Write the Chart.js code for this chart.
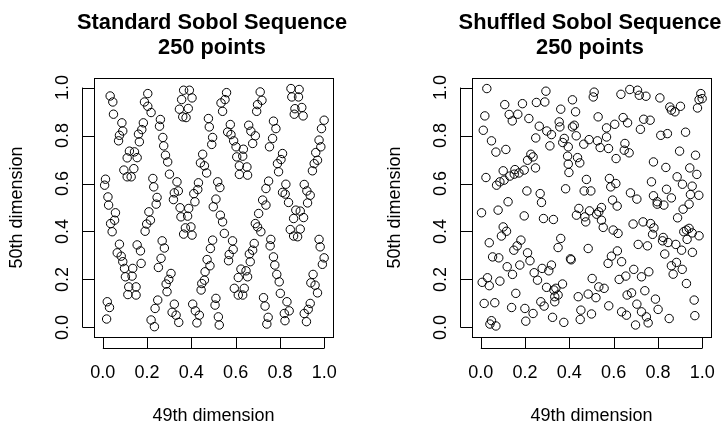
<!DOCTYPE html>
<html>
<head>
<meta charset="utf-8">
<script src="https://cdn.jsdelivr.net/npm/chart.js@4"></script>
<style>
  body { margin: 0; background: #fff; }
  .wrap { display: flex; width: 722px; height: 426px; }
  canvas { display: block; }
</style>
</head>
<body>
<div class="wrap">
  <canvas id="stdChart" width="361" height="426"></canvas>
  <canvas id="shufChart" width="361" height="426"></canvas>
</div>
<script>
// tick values and their labels (same for both axes, both panels)
const tickVals = [0, 0.2, 0.4, 0.6, 0.8, 1.0];
const tickLabels = ['0.0', '0.2', '0.4', '0.6', '0.8', '1.0'];

// left panel: standard sobol, 49th dim (x) vs 50th dim (y)
const stdX = [0.008,0.012,0.017,0.020,0.030,0.023,0.026,0.035,0.042,0.053,
0.057,0.033,0.045,0.048,0.065,0.075,0.083,0.071,0.075,0.086,
0.090,0.090,0.098,0.102,0.095,0.110,0.110,0.120,0.128,0.140,
0.143,0.155,0.113,0.117,0.132,0.135,0.150,0.150,0.155,0.170,
0.173,0.161,0.165,0.176,0.183,0.188,0.203,0.203,0.218,0.191,
0.198,0.208,0.215,0.218,0.233,0.236,0.248,0.226,0.230,0.241,
0.245,0.251,0.263,0.268,0.278,0.256,0.260,0.271,0.275,0.283,
0.293,0.301,0.290,0.286,0.298,0.308,0.313,0.323,0.331,0.343,
0.319,0.323,0.335,0.341,0.346,0.361,0.376,0.356,0.365,0.391,
0.386,0.403,0.349,0.353,0.365,0.373,0.383,0.388,0.398,0.403,
0.406,0.418,0.425,0.436,0.411,0.416,0.429,0.432,0.441,0.451,
0.459,0.469,0.444,0.447,0.459,0.462,0.471,0.484,0.486,0.496,
0.477,0.481,0.492,0.496,0.499,0.511,0.511,0.507,0.519,0.529,
0.522,0.526,0.534,0.541,0.552,0.559,0.531,0.541,0.549,0.564,
0.576,0.579,0.591,0.602,0.571,0.568,0.586,0.589,0.594,0.612,
0.612,0.624,0.632,0.639,0.647,0.654,0.605,0.617,0.617,0.632,
0.635,0.651,0.654,0.659,0.669,0.677,0.689,0.662,0.666,0.677,
0.684,0.689,0.699,0.704,0.714,0.695,0.699,0.711,0.719,0.722,
0.737,0.737,0.749,0.726,0.733,0.741,0.747,0.753,0.767,0.771,
0.782,0.759,0.756,0.771,0.777,0.786,0.797,0.802,0.789,0.794,
0.805,0.812,0.812,0.827,0.824,0.839,0.823,0.820,0.832,0.842,
0.847,0.862,0.862,0.872,0.880,0.892,0.892,0.907,0.850,0.854,
0.868,0.865,0.884,0.887,0.899,0.905,0.910,0.922,0.925,0.937,
0.910,0.920,0.928,0.937,0.940,0.950,0.959,0.970,0.947,0.955,
0.962,0.970,0.977,0.982,0.992,1.000,0.977,0.985,0.988,1.000];
const stdY = [0.593,0.618,0.035,0.107,0.083,0.544,0.510,0.433,0.399,0.447,
0.478,0.965,0.940,0.889,0.311,0.347,0.297,0.778,0.801,0.853,
0.819,0.274,0.246,0.211,0.656,0.628,0.707,0.735,0.628,0.662,
0.732,0.708,0.137,0.169,0.214,0.246,0.169,0.135,0.344,0.319,
0.267,0.806,0.774,0.825,0.853,0.940,0.975,0.922,0.896,0.401,
0.431,0.482,0.447,0.031,0.003,0.079,0.114,0.621,0.586,0.514,
0.542,0.250,0.288,0.361,0.331,0.839,0.867,0.792,0.757,0.718,
0.690,0.639,0.149,0.181,0.200,0.225,0.063,0.097,0.051,0.021,
0.533,0.561,0.607,0.569,0.910,0.878,0.875,0.950,0.989,0.989,
0.913,0.957,0.499,0.461,0.389,0.415,0.464,0.496,0.419,0.385,
0.097,0.069,0.019,0.051,0.558,0.524,0.575,0.603,0.686,0.722,
0.674,0.644,0.156,0.183,0.197,0.232,0.283,0.257,0.329,0.364,
0.871,0.836,0.763,0.792,0.503,0.535,0.121,0.093,0.607,0.583,
0.044,0.010,0.936,0.901,0.950,0.979,0.468,0.440,0.392,0.815,
0.846,0.804,0.778,0.753,0.304,0.278,0.361,0.325,0.163,0.135,
0.208,0.243,0.135,0.163,0.236,0.211,0.711,0.674,0.638,0.714,
0.743,0.669,0.635,0.843,0.818,0.767,0.799,0.306,0.274,0.322,
0.350,0.433,0.419,0.475,0.399,0.901,0.929,0.982,0.947,0.531,
0.510,0.579,0.610,0.124,0.089,0.014,0.042,0.753,0.788,0.860,
0.829,0.367,0.340,0.294,0.260,0.221,0.190,0.142,0.683,0.649,
0.700,0.725,0.563,0.597,0.556,0.521,0.028,0.058,0.107,0.069,
0.408,0.381,0.454,0.489,0.378,0.410,0.485,0.458,0.996,0.961,
0.912,0.889,0.961,0.992,0.917,0.882,0.596,0.569,0.519,0.551,
0.058,0.024,0.075,0.100,0.186,0.221,0.176,0.144,0.653,0.683,
0.729,0.697,0.367,0.336,0.263,0.290,0.781,0.753,0.829,0.864];

// right panel: shuffled sobol
const shufX = [0.027,0.294,0.512,0.508,0.633,0.673,0.708,0.716,0.746,0.809,
0.994,0.986,1.000,0.979,0.414,0.251,0.289,0.108,0.188,0.361,
0.428,0.128,0.142,0.167,0.018,0.217,0.530,0.643,0.663,0.736,
0.765,0.854,0.861,0.877,0.902,0.354,0.357,0.264,0.414,0.422,
0.568,0.605,0.721,0.011,0.298,0.319,0.431,0.813,0.843,0.925,
0.048,0.248,0.377,0.568,0.489,0.527,0.370,0.651,0.465,0.395,
0.539,0.577,0.312,0.068,0.113,0.648,0.670,0.611,0.898,0.970,
0.226,0.236,0.211,0.437,0.447,0.392,0.395,0.780,0.836,0.944,
0.976,0.247,0.196,0.154,0.172,0.151,0.131,0.101,0.105,0.086,
0.071,0.023,0.398,0.477,0.467,0.497,0.581,0.587,0.610,0.771,
0.887,0.911,0.383,0.208,0.268,0.274,0.123,0.078,0.003,0.196,
0.283,0.328,0.676,0.705,0.780,0.797,0.797,0.839,0.861,0.827,
0.955,0.947,0.985,0.941,0.914,0.595,0.616,0.443,0.432,0.470,
0.474,0.491,0.523,0.533,0.545,0.545,0.553,0.598,0.620,0.688,
0.733,0.767,0.782,0.776,0.824,0.821,0.846,0.889,0.929,0.941,
0.917,0.955,0.986,0.932,0.101,0.116,0.093,0.181,0.164,0.149,
0.038,0.361,0.349,0.485,0.711,0.753,0.881,0.907,0.956,0.831,
0.211,0.222,0.053,0.081,0.405,0.408,0.590,0.617,0.636,0.575,
0.176,0.119,0.241,0.277,0.307,0.319,0.143,0.030,0.006,0.038,
0.086,0.256,0.503,0.625,0.655,0.691,0.726,0.759,0.861,0.884,
0.869,0.910,0.929,0.369,0.297,0.330,0.339,0.334,0.349,0.334,
0.533,0.557,0.158,0.440,0.485,0.520,0.661,0.681,0.741,0.789,
0.964,0.015,0.063,0.139,0.199,0.271,0.286,0.236,0.578,0.705,
0.801,0.452,0.500,0.636,0.658,0.726,0.748,0.756,0.699,0.851,
0.967,0.324,0.375,0.449,0.203,0.048,0.041,0.068];
const shufY = [0.996,0.985,0.981,0.961,0.972,0.992,0.989,0.968,0.964,0.957,
0.975,0.950,0.954,0.915,0.949,0.938,0.940,0.929,0.933,0.910,
0.899,0.888,0.861,0.889,0.882,0.871,0.878,0.875,0.853,0.868,
0.864,0.919,0.906,0.899,0.922,0.857,0.836,0.839,0.836,0.843,
0.832,0.847,0.826,0.822,0.819,0.804,0.799,0.801,0.808,0.814,
0.778,0.790,0.788,0.794,0.783,0.778,0.771,0.767,0.764,0.753,
0.750,0.746,0.757,0.731,0.742,0.739,0.728,0.704,0.735,0.718,
0.722,0.711,0.697,0.708,0.686,0.714,0.681,0.690,0.667,0.665,
0.638,0.665,0.656,0.658,0.644,0.639,0.631,0.653,0.614,0.607,
0.593,0.625,0.646,0.617,0.569,0.569,0.621,0.586,0.600,0.607,
0.628,0.597,0.578,0.569,0.558,0.521,0.524,0.489,0.478,0.465,
0.454,0.450,0.561,0.535,0.549,0.524,0.514,0.576,0.540,0.510,
0.589,0.554,0.551,0.514,0.493,0.531,0.506,0.496,0.468,0.461,
0.440,0.486,0.472,0.482,0.500,0.447,0.417,0.406,0.392,0.431,
0.440,0.433,0.415,0.388,0.375,0.361,0.354,0.457,0.406,0.413,
0.399,0.394,0.382,0.367,0.419,0.401,0.381,0.364,0.340,0.322,
0.353,0.371,0.333,0.329,0.346,0.340,0.346,0.322,0.313,0.306,
0.311,0.278,0.294,0.290,0.286,0.282,0.297,0.319,0.274,0.267,
0.260,0.253,0.228,0.246,0.236,0.260,0.221,0.207,0.188,0.174,
0.193,0.197,0.204,0.200,0.214,0.242,0.211,0.232,0.257,0.271,
0.222,0.242,0.183,0.181,0.167,0.156,0.163,0.128,0.135,0.107,
0.169,0.163,0.142,0.128,0.139,0.124,0.135,0.144,0.153,0.118,
0.114,0.100,0.103,0.083,0.079,0.107,0.089,0.058,0.090,0.097,
0.075,0.072,0.056,0.065,0.051,0.065,0.044,0.019,0.010,0.037,
0.049,0.042,0.021,0.033,0.026,0.028,0.014,0.006];

const xTitle = '49th dimension';
const yTitle = '50th dimension';

const FONT = '"Liberation Sans", Arial, Helvetica, sans-serif';

// draws the R-style frame: box, detached axes, tick labels, titles
const rFrame = {
  id: 'rFrame',
  afterDraw(chart, args, opts) {
    const c = chart.ctx;
    const a = chart.chartArea;
    const xs = chart.scales.x, ys = chart.scales.y;
    c.save();
    c.strokeStyle = '#000';
    c.fillStyle = '#000';
    c.lineWidth = 1;

    // box
    c.strokeRect(Math.round(a.left) + 0.5, Math.round(a.top) + 0.5,
                 Math.round(a.right - a.left), Math.round(a.bottom - a.top));

    // x axis
    const xLine = Math.round(a.bottom) + 11.5;
    c.beginPath();
    c.moveTo(xs.getPixelForValue(tickVals[0]), xLine);
    c.lineTo(xs.getPixelForValue(tickVals[tickVals.length - 1]), xLine);
    tickVals.forEach(v => {
      const px = Math.round(xs.getPixelForValue(v)) + 0.5;
      c.moveTo(px, xLine);
      c.lineTo(px, Math.round(a.bottom));
    });
    c.stroke();

    // y axis
    const yLine = Math.round(a.left) - 11.5;
    c.beginPath();
    c.moveTo(yLine, ys.getPixelForValue(tickVals[0]));
    c.lineTo(yLine, ys.getPixelForValue(tickVals[tickVals.length - 1]));
    tickVals.forEach(v => {
      const py = Math.round(ys.getPixelForValue(v)) + 0.5;
      c.moveTo(yLine, py);
      c.lineTo(Math.round(a.left), py);
    });
    c.stroke();

    // tick labels
    c.font = '18px ' + FONT;
    c.textAlign = 'center';
    c.textBaseline = 'alphabetic';
    tickVals.forEach((v, i) => {
      c.fillText(tickLabels[i], xs.getPixelForValue(v), a.bottom + 41);
    });
    tickVals.forEach((v, i) => {
      c.save();
      c.translate(a.left - 26, ys.getPixelForValue(v));
      c.rotate(-Math.PI / 2);
      c.fillText(tickLabels[i], 0, 0);
      c.restore();
    });

    // axis titles
    const cx = (a.left + a.right) / 2;
    const cy = (a.top + a.bottom) / 2;
    c.fillText(xTitle, cx, a.bottom + 84);
    c.save();
    c.translate(a.left - 72, cy);
    c.rotate(-Math.PI / 2);
    c.fillText(yTitle, 0, 0);
    c.restore();

    // main title, two lines
    c.font = 'bold 21.8px ' + FONT;
    c.fillText(opts.line1, cx - 1.5, 28.5);
    c.fillText(opts.line2, cx - 1.5, 54);
    c.restore();
  }
};

function makePanel(id, xv, yv, pad, line1, line2) {
  const pts = xv.map((x, i) => ({ x: x, y: yv[i] }));
  return new Chart(document.getElementById(id), {
    type: 'scatter',
    data: {
      datasets: [{
        data: pts,
        pointStyle: 'circle',
        pointRadius: 4.2,
        pointBorderWidth: 1,
        borderColor: '#000',
        backgroundColor: 'rgba(0,0,0,0)'
      }]
    },
    options: {
      responsive: false,
      animation: false,
      events: [],
      layout: { padding: pad },
      plugins: {
        legend: { display: false },
        tooltip: { enabled: false },
        rFrame: { line1: line1, line2: line2 }
      },
      scales: {
        x: { type: 'linear', min: -0.04, max: 1.04, display: false },
        y: { type: 'linear', min: -0.04, max: 1.04, display: false }
      }
    },
    plugins: [rFrame]
  });
}

makePanel('stdChart', stdX, stdY, { left: 94, right: 28, top: 78, bottom: 89 },
  'Standard Sobol Sequence', '250 points');
makePanel('shufChart', shufX, shufY, { left: 111, right: 11, top: 78, bottom: 89 },
  'Shuffled Sobol Sequence', '250 points');
</script>
</body>
</html>
